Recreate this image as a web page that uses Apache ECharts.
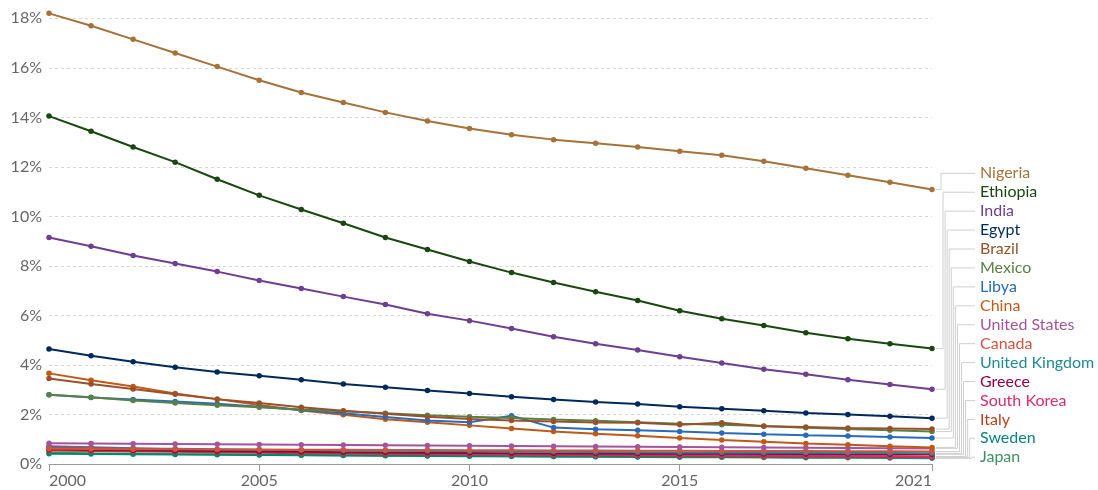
<!DOCTYPE html>
<html><head><meta charset="utf-8">
<script src="https://cdn.jsdelivr.net/npm/echarts@6/dist/echarts.min.js"></script>
<style>html,body{margin:0;padding:0;background:#fff}#c{width:1098px;height:490px}</style>
</head><body><div id="c"></div>
<script>
const years = [2000,2001,2002,2003,2004,2005,2006,2007,2008,2009,2010,2011,2012,2013,2014,2015,2016,2017,2018,2019,2020,2021];
const xTickYears = [2000,2005,2010,2015,2021];
const countries = ["Nigeria","Ethiopia","India","Egypt","Brazil","Mexico","Libya","China","United States","Canada","United Kingdom","Greece","South Korea","Italy","Sweden","Japan"];
const colors = ["#a5733a","#18470f","#6d3e91","#00295b","#9a5129","#578145","#286bbb","#c05917","#a2559c","#d0543e","#1f8a93","#970046","#dc2a6e","#be3e1e","#00847e","#3e8f62"];

const nigeria = [18.2,17.7,17.15,16.6,16.05,15.5,15.0,14.6,14.2,13.85,13.55,13.3,13.1,12.95,12.8,12.63,12.47,12.23,11.94,11.66,11.38,11.09];
const ethiopia = [14.05,13.44,12.8,12.19,11.5,10.85,10.28,9.72,9.15,8.66,8.18,7.73,7.33,6.96,6.6,6.19,5.87,5.59,5.3,5.06,4.86,4.66];
const india = [9.15,8.79,8.42,8.1,7.77,7.41,7.09,6.76,6.44,6.07,5.79,5.47,5.14,4.86,4.6,4.33,4.08,3.83,3.62,3.4,3.21,3.02];
const egypt = [4.64,4.37,4.13,3.91,3.72,3.56,3.4,3.23,3.1,2.97,2.85,2.72,2.6,2.5,2.42,2.31,2.23,2.15,2.06,2.0,1.93,1.85];
const brazil = [3.45,3.23,3.03,2.82,2.62,2.46,2.29,2.15,2.03,1.91,1.82,1.76,1.72,1.68,1.67,1.59,1.67,1.52,1.49,1.45,1.43,1.41];
const mexico = [2.8,2.7,2.56,2.46,2.37,2.29,2.2,2.13,2.05,1.97,1.91,1.86,1.8,1.75,1.69,1.63,1.59,1.53,1.46,1.41,1.36,1.31];
const libya = [2.8,2.69,2.6,2.52,2.43,2.31,2.18,2.05,1.9,1.76,1.69,1.95,1.47,1.4,1.36,1.31,1.25,1.2,1.16,1.13,1.09,1.05];
const china = [3.66,3.38,3.13,2.85,2.62,2.38,2.16,1.99,1.81,1.69,1.56,1.43,1.31,1.22,1.14,1.05,0.97,0.9,0.83,0.78,0.72,0.67];
const unitedStates = [0.84,0.83,0.82,0.81,0.8,0.79,0.78,0.77,0.76,0.75,0.74,0.73,0.72,0.71,0.7,0.69,0.68,0.67,0.66,0.65,0.64,0.63];
const canada = [0.62,0.61,0.6,0.6,0.59,0.59,0.58,0.58,0.57,0.57,0.56,0.56,0.55,0.55,0.54,0.54,0.53,0.53,0.52,0.51,0.51,0.5];
const unitedKingdom = [0.67,0.65,0.63,0.62,0.6,0.58,0.57,0.55,0.54,0.53,0.51,0.5,0.49,0.48,0.47,0.46,0.46,0.45,0.45,0.44,0.44,0.43];
const greece = [0.6,0.58,0.56,0.54,0.52,0.5,0.49,0.47,0.46,0.45,0.44,0.43,0.42,0.42,0.41,0.41,0.41,0.4,0.4,0.4,0.39,0.39];
const southKorea = [0.72,0.68,0.64,0.6,0.56,0.53,0.5,0.47,0.45,0.43,0.41,0.4,0.39,0.38,0.37,0.36,0.35,0.34,0.33,0.32,0.31,0.3];
const italy = [0.55,0.53,0.51,0.49,0.47,0.45,0.43,0.42,0.4,0.39,0.38,0.37,0.36,0.35,0.34,0.33,0.32,0.31,0.3,0.3,0.29,0.28];
const sweden = [0.41,0.4,0.39,0.38,0.37,0.36,0.35,0.34,0.33,0.32,0.31,0.31,0.3,0.3,0.29,0.29,0.28,0.28,0.27,0.27,0.26,0.26];
const japan = [0.45,0.43,0.42,0.4,0.39,0.37,0.36,0.35,0.34,0.33,0.32,0.31,0.3,0.29,0.28,0.27,0.27,0.26,0.25,0.25,0.24,0.23];

const seriesData = [nigeria,ethiopia,india,egypt,brazil,mexico,libya,china,unitedStates,canada,unitedKingdom,greece,southKorea,italy,sweden,japan];

const chart = echarts.init(document.getElementById('c'), null, {renderer:'canvas'});
const FONT = 'Lato, "Noto Sans", sans-serif';

const series = countries.map((name, i) => ({
  name, type: 'line',
  data: years.map((y, j) => [y, seriesData[i][j]]),
  symbol: 'circle', symbolSize: 5.5, showSymbol: true,
  clip: false,
  lineStyle: {width: 2, color: colors[i]},
  itemStyle: {color: colors[i]},
  z: 20 - i,
  animation: false
}));

chart.setOption({
  animation: false,
  grid: {left: 49, right: 166, top: 18.3, bottom: 26},
  xAxis: {
    type: 'value', min: 2000, max: 2021,
    axisLine: {show: true, lineStyle: {color: '#999', width: 1}},
    axisTick: {show: true, customValues: xTickYears, length: 7, lineStyle: {color: '#999'}},
    axisLabel: {customValues: xTickYears, color: '#666', fontSize: 16, fontFamily: FONT, margin: 9,
      alignMinLabel: 'left', alignMaxLabel: 'right', formatter: v => String(v)},
    splitLine: {show: false}
  },
  yAxis: {
    type: 'value', min: 0, max: 18, interval: 2,
    axisLine: {show: false}, axisTick: {show: false},
    axisLabel: {formatter: '{value}%', color: '#666', fontSize: 16, fontFamily: FONT, margin: 7},
    splitLine: {show: true, lineStyle: {color: '#d8d8d8', type: [3, 3], width: 1}}
  },
  series
});

// Legend labels with connector lines
const graphics = [];
const labelX = 980, labelY0 = 173.3, labelStep = 18.93, vx0 = 941, vxStep = 2.05;
countries.forEach((name, i) => {
  const last = seriesData[i][seriesData[i].length - 1];
  const p = chart.convertToPixel({gridIndex: 0}, [years[years.length - 1], last]);
  const ly = labelY0 + i * labelStep;
  const vx = vx0 + i * vxStep;
  graphics.push({
    type: 'polyline', silent: true, z: 1,
    shape: {points: [[p[0] + 4, p[1]], [vx, p[1]], [vx, ly], [975, ly]]},
    style: {stroke: '#cfcfcf', lineWidth: 1, fill: null}
  });
  graphics.push({
    type: 'text', silent: true, z: 2,
    x: labelX, y: ly,
    style: {text: name, fill: colors[i], font: '16px ' + FONT, textVerticalAlign: 'middle', verticalAlign: 'middle'}
  });
});
chart.setOption({graphic: graphics});
</script>
</body></html>
